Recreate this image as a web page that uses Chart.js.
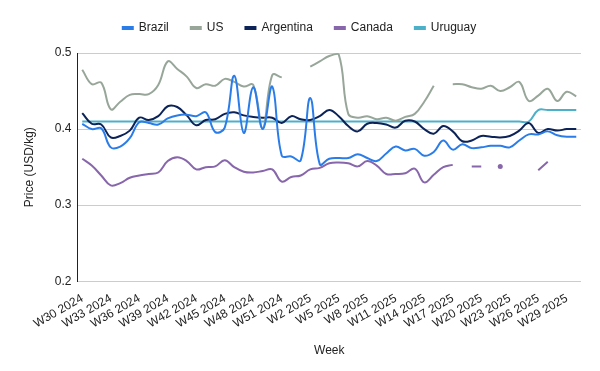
<!DOCTYPE html>
<html>
<head>
<meta charset="utf-8">
<script src="https://cdn.jsdelivr.net/npm/chart.js@4/dist/chart.umd.min.js"></script>
<style>
  body { margin: 0; background: #fff; }
  canvas { display: block; }
</style>
</head>
<body>
<canvas id="chart" width="600" height="371"></canvas>
<script>
// weeks W30 2024 .. W30 2025 (last one has no tick label)
const weeks = [];
for (let w = 30; w <= 52; w++) weeks.push('W' + w + ' 2024');
for (let w = 1; w <= 30; w++) weeks.push('W' + w + ' 2025');

const brazil = [0.407, 0.400, 0.401, 0.376, 0.377, 0.388, 0.409, 0.408, 0.406, 0.414,
  0.418, 0.419, 0.417, 0.422, 0.396, 0.402, 0.470, 0.395, 0.455, 0.400,
  0.456, 0.365, 0.364, 0.359, 0.441, 0.354, 0.361, 0.362, 0.362, 0.367,
  0.362, 0.358, 0.368, 0.377, 0.372, 0.374, 0.365, 0.370, 0.385, 0.373,
  0.380, 0.375, 0.376, 0.378, 0.378, 0.376, 0.385, 0.393, 0.393, 0.397,
  0.392, 0.390, 0.390];

const us = [0.478, 0.459, 0.461, 0.426, 0.436, 0.445, 0.446, 0.446, 0.458, 0.489,
  0.479, 0.469, 0.454, 0.459, 0.457, 0.466, 0.462, 0.456, 0.458, 0.401,
  0.471, 0.468, null, null, 0.482, 0.489, 0.496, 0.498, 0.420, 0.415,
  0.417, 0.413, 0.415, 0.411, 0.416, 0.420, 0.436, 0.457, null, 0.459,
  0.459, 0.455, 0.453, 0.457, 0.450, 0.455, 0.462, 0.437, 0.444, 0.453,
  0.437, 0.449, 0.443];

const argentina = [0.421, 0.407, 0.406, 0.389, 0.391, 0.398, 0.415, 0.412, 0.417, 0.430,
  0.429, 0.418, 0.405, 0.412, 0.413, 0.420, 0.422, 0.418, 0.416, 0.415,
  0.415, 0.408, 0.417, 0.413, 0.412, 0.417, 0.425, 0.417, 0.404, 0.397,
  0.407, 0.408, 0.406, 0.402, 0.411, 0.410, 0.400, 0.394, 0.404, 0.397,
  0.384, 0.385, 0.391, 0.390, 0.389, 0.391, 0.398, 0.408, 0.395, 0.400,
  0.398, 0.400, 0.400];

const canada = [0.361, 0.352, 0.339, 0.326, 0.329, 0.336, 0.339, 0.341, 0.343, 0.358,
  0.363, 0.358, 0.347, 0.350, 0.351, 0.359, 0.350, 0.344, 0.343, 0.345,
  0.347, 0.331, 0.337, 0.339, 0.347, 0.349, 0.355, 0.356, 0.355, 0.351,
  0.358, 0.352, 0.341, 0.341, 0.342, 0.348, 0.330, 0.340, 0.350, 0.353,
  null, 0.351, 0.351, null, 0.351, null, null, null, 0.346, 0.357,
  null, null, null];

const uruguay = [0.41, 0.41, 0.41, 0.41, 0.41, 0.41, 0.41, 0.41, 0.41, 0.41,
  0.41, 0.41, 0.41, 0.41, 0.41, 0.41, 0.41, 0.41, 0.41, 0.41,
  0.41, 0.41, 0.41, 0.41, 0.41, 0.41, 0.41, 0.41, 0.41, 0.41,
  0.41, 0.41, 0.41, 0.41, 0.41, 0.41, 0.41, 0.41, 0.41, 0.41,
  0.41, 0.41, 0.41, 0.41, 0.41, 0.41, 0.41, 0.41, 0.425, 0.425,
  0.425, 0.425, 0.425];

const yTicks = [0.2, 0.3, 0.4, 0.5];

const font = 'Liberation Sans, Arial, sans-serif';

// only draw a dot where a point has no neighbours
function lonePoint(ctx) {
  const d = ctx.dataset.data, i = ctx.dataIndex;
  if (d[i] == null) return 0;
  return (d[i - 1] == null && d[i + 1] == null) ? 2.5 : 0;
}

function series(label, data, color) {
  return {
    label, data,
    borderColor: color, backgroundColor: color,
    borderWidth: 2, tension: 0.4,
    pointRadius: lonePoint, pointHoverRadius: 0,
    pointBorderWidth: 0, spanGaps: false
  };
}

const legendSpace = {
  id: 'legendSpace',
  beforeInit(chart) {
    const fit = chart.legend.fit;
    chart.legend.fit = function () {
      fit.bind(chart.legend)();
      this.height += 9;
    };
  }
};

new Chart(document.getElementById('chart'), {
  type: 'line',
  data: {
    labels: weeks,
    datasets: [
      series('Brazil', brazil, '#2a7de9'),
      series('US', us, '#98a69a'),
      series('Argentina', argentina, '#0c2358'),
      series('Canada', canada, '#8766ab'),
      series('Uruguay', uruguay, '#4cb0c9')
    ]
  },
  options: {
    responsive: false,
    animation: false,
    layout: { padding: { top: 0, left: 18, right: 19, bottom: 9.5 } },
    plugins: {
      legend: {
        position: 'top',
        labels: {
          boxWidth: 10, boxHeight: 2, padding: 22,
          color: '#222', font: { family: font, size: 12 }
        }
      },
      tooltip: { enabled: false }
    },
    scales: {
      x: {
        offset: true,
        grid: { display: false },
        border: { display: false },
        ticks: {
          autoSkip: false, minRotation: 30, maxRotation: 30,
          color: '#222', font: { family: font, size: 12 }, padding: 2,
          callback: (v, i) => (i % 3 === 0 && i < 52) ? weeks[i] : null
        },
        title: {
          display: true, text: 'Week', color: '#222',
          font: { family: font, size: 12 }, padding: { top: 10, bottom: 4 }
        }
      },
      y: {
        min: 0.2, max: 0.5,
        afterBuildTicks: s => { s.ticks = yTicks.map(v => ({ value: v })); },
        afterFit: s => { s.width = 59.5; },
        grid: { color: '#cccccc', drawTicks: false },
        border: { display: true, color: '#222', width: 1 },
        ticks: {
          color: '#222', font: { family: font, size: 12 }, padding: 6,
          callback: v => v.toFixed(1)
        },
        title: {
          display: true, text: 'Price (USD/kg)', color: '#222',
          font: { family: font, size: 12 }, padding: { top: 4, bottom: 4 }
        }
      }
    }
  },
  plugins: [legendSpace]
});
</script>
</body>
</html>
